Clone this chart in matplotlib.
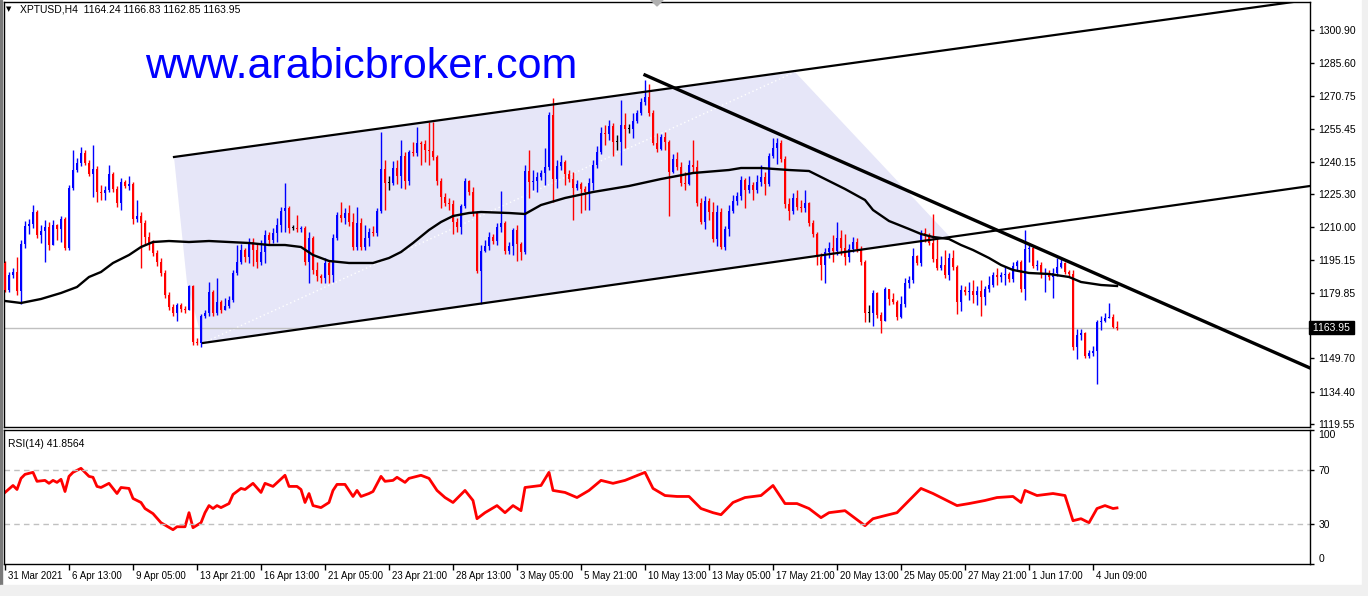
import numpy as np
import matplotlib
matplotlib.use('Agg')
import matplotlib.pyplot as plt
import matplotlib.transforms as mtrans
from matplotlib.patches import Polygon, Rectangle

plt.rcParams['font.family'] = ['Liberation Sans', 'DejaVu Sans']

# XPTUSD H4 candles, 31 Mar 2021 .. 4 Jun 2021
opens = [
    1193.66, 1181.23, 1188.14, 1189.52, 1180.77, 1202.40, 1210.69, 1211.61, 1217.13, 1206.55,
    1208.39, 1210.23, 1201.94, 1211.15, 1209.31, 1213.91, 1200.56, 1228.18, 1236.46, 1239.68,
    1244.29, 1239.68, 1234.62, 1236.92, 1226.34, 1225.88, 1227.26, 1234.62, 1227.72, 1221.27,
    1230.94, 1229.10, 1230.02, 1213.91, 1215.29, 1212.07, 1205.63, 1202.86, 1198.26, 1194.12,
    1189.06, 1178.93, 1173.41, 1170.65, 1174.33, 1172.49, 1172.03, 1183.07, 1157.30, 1156.84,
    1169.27, 1170.65, 1180.31, 1170.65, 1175.71, 1172.03, 1173.87, 1176.63, 1189.06, 1194.12,
    1199.64, 1196.42, 1203.32, 1199.64, 1194.12, 1198.72, 1206.55, 1204.24, 1207.47, 1211.15,
    1217.59, 1218.97, 1209.77, 1209.77, 1209.31, 1209.77, 1194.12, 1205.17, 1190.44, 1187.68,
    1186.76, 1193.66, 1188.14, 1205.17, 1215.75, 1214.37, 1216.67, 1212.53, 1201.02, 1212.07,
    1201.02, 1205.17, 1207.93, 1207.47, 1217.59, 1236.92, 1230.48, 1230.48, 1237.38, 1233.70,
    1242.91, 1231.40, 1244.75, 1244.29, 1248.89, 1248.43, 1245.67, 1245.21, 1242.45, 1231.40,
    1224.04, 1221.27, 1220.81, 1212.53, 1210.23, 1219.89, 1231.40, 1226.34, 1216.67, 1189.98,
    1199.18, 1201.48, 1205.63, 1203.78, 1210.23, 1212.07, 1199.18, 1201.48, 1208.85, 1202.40,
    1198.72, 1236.00, 1230.94, 1231.40, 1233.24, 1235.08, 1237.84, 1261.78, 1232.32, 1238.30,
    1240.14, 1234.62, 1232.32, 1228.18, 1230.02, 1227.72, 1226.34, 1230.48, 1238.76, 1244.75,
    1253.49, 1253.03, 1256.71, 1249.35, 1249.35, 1257.17, 1255.33, 1255.33, 1259.01, 1262.70,
    1267.76, 1270.06, 1262.70, 1248.89, 1246.13, 1251.65, 1249.35, 1235.54, 1241.53, 1237.84,
    1230.48, 1230.02, 1238.76, 1237.84, 1221.27, 1212.53, 1222.19, 1217.13, 1204.70, 1217.13,
    1201.02, 1209.31, 1217.59, 1222.19, 1224.50, 1231.86, 1227.26, 1229.56, 1227.26, 1230.94,
    1233.24, 1230.02, 1242.91, 1246.59, 1248.89, 1241.53, 1220.81, 1217.59, 1223.58, 1219.43,
    1218.97, 1221.27, 1212.07, 1207.01, 1196.42, 1192.74, 1198.72, 1200.56, 1199.18, 1205.17,
    1200.56, 1196.42, 1200.10, 1203.32, 1200.10, 1194.12, 1170.65, 1170.65, 1179.85, 1169.73,
    1166.96, 1181.69, 1177.09, 1175.71, 1168.81, 1174.79, 1184.45, 1185.83, 1196.88, 1193.66,
    1207.47, 1206.09, 1202.86, 1195.50, 1191.36, 1192.74, 1188.14, 1195.96, 1191.82, 1175.71,
    1181.23, 1180.31, 1180.77, 1178.93, 1180.77, 1178.01, 1181.69, 1183.53, 1188.14, 1187.22,
    1188.14, 1188.60, 1186.29, 1192.28, 1194.12, 1181.69, 1200.10, 1200.56, 1192.28, 1192.74,
    1188.60, 1189.06, 1187.22, 1189.06, 1191.82, 1193.66, 1189.52, 1188.60, 1155.00, 1160.52,
    1161.44, 1150.85, 1152.23, 1153.15, 1166.50, 1166.96, 1168.35, 1168.81, 1164.24]

highs = [
    1194.58, 1189.52, 1191.36, 1196.42, 1204.24, 1212.99, 1213.91, 1220.35, 1218.05, 1211.15,
    1213.45, 1212.53, 1213.45, 1211.61, 1215.29, 1214.83, 1229.56, 1245.67, 1241.99, 1247.05,
    1245.67, 1241.07, 1247.97, 1238.30, 1229.56, 1229.10, 1238.76, 1235.54, 1229.10, 1232.78,
    1231.86, 1233.70, 1230.94, 1222.65, 1217.13, 1213.45, 1207.93, 1204.24, 1199.64, 1195.96,
    1190.44, 1180.31, 1174.79, 1175.25, 1175.25, 1173.87, 1183.53, 1183.53, 1159.14, 1170.19,
    1172.03, 1184.91, 1181.23, 1186.76, 1176.63, 1177.55, 1178.47, 1190.44, 1201.94, 1202.40,
    1200.56, 1205.17, 1205.17, 1202.86, 1204.24, 1208.85, 1207.93, 1209.77, 1214.37, 1219.43,
    1230.48, 1219.89, 1211.15, 1215.75, 1210.69, 1210.69, 1207.93, 1206.09, 1194.12, 1188.60,
    1195.96, 1195.04, 1207.01, 1217.13, 1221.73, 1218.97, 1220.35, 1216.67, 1219.43, 1214.37,
    1211.15, 1209.77, 1210.69, 1218.97, 1253.95, 1241.07, 1233.70, 1240.61, 1241.07, 1250.27,
    1244.75, 1245.67, 1249.35, 1256.25, 1249.81, 1250.27, 1258.55, 1258.55, 1243.37, 1232.78,
    1225.88, 1223.58, 1222.65, 1214.37, 1220.81, 1232.78, 1231.86, 1228.64, 1217.59, 1201.94,
    1204.24, 1207.93, 1207.01, 1212.07, 1226.80, 1212.99, 1203.32, 1209.77, 1211.15, 1203.32,
    1238.76, 1245.67, 1236.46, 1235.54, 1236.46, 1246.59, 1263.16, 1269.60, 1241.07, 1243.37,
    1241.07, 1236.46, 1235.54, 1231.86, 1230.94, 1229.10, 1232.78, 1241.07, 1247.51, 1256.25,
    1257.17, 1259.48, 1258.09, 1252.57, 1268.68, 1262.70, 1257.63, 1262.70, 1264.08, 1269.60,
    1277.89, 1276.05, 1264.08, 1253.49, 1253.03, 1253.95, 1250.27, 1243.83, 1244.75, 1240.14,
    1235.54, 1241.07, 1250.27, 1241.07, 1223.58, 1224.50, 1223.58, 1221.73, 1220.35, 1218.97,
    1210.69, 1220.35, 1224.96, 1226.34, 1233.70, 1232.78, 1233.70, 1230.94, 1234.16, 1238.76,
    1235.54, 1244.29, 1251.19, 1251.19, 1250.27, 1242.91, 1223.58, 1225.88, 1227.26, 1222.65,
    1227.26, 1221.73, 1213.45, 1207.93, 1198.26, 1200.56, 1203.32, 1206.55, 1212.53, 1208.85,
    1207.01, 1202.40, 1205.63, 1205.17, 1201.48, 1195.04, 1174.33, 1181.23, 1180.31, 1171.11,
    1182.61, 1181.69, 1179.85, 1176.63, 1178.47, 1186.76, 1187.68, 1200.56, 1197.34, 1208.85,
    1209.77, 1207.47, 1216.21, 1205.17, 1196.88, 1199.64, 1198.26, 1199.64, 1192.74, 1183.53,
    1183.07, 1184.91, 1185.83, 1183.07, 1185.83, 1183.07, 1187.68, 1189.52, 1191.36, 1189.52,
    1192.28, 1189.52, 1194.12, 1195.04, 1195.04, 1208.85, 1201.94, 1201.48, 1195.04, 1194.12,
    1191.36, 1190.44, 1191.36, 1195.96, 1195.96, 1194.12, 1190.44, 1190.44, 1163.28, 1163.28,
    1161.90, 1153.61, 1155.46, 1167.42, 1169.27, 1170.65, 1175.25, 1170.19, 1166.83]

lows = [
    1180.31, 1180.31, 1186.76, 1178.93, 1174.79, 1200.56, 1207.01, 1209.77, 1205.17, 1202.86,
    1194.12, 1199.64, 1201.94, 1204.24, 1203.32, 1199.64, 1199.64, 1227.26, 1235.54, 1238.30,
    1238.76, 1233.70, 1224.04, 1221.73, 1222.65, 1222.65, 1226.34, 1226.34, 1219.43, 1218.05,
    1228.18, 1227.26, 1211.61, 1212.53, 1191.36, 1201.94, 1199.64, 1196.88, 1192.28, 1187.68,
    1177.55, 1172.03, 1169.27, 1166.96, 1171.11, 1170.65, 1172.03, 1155.92, 1155.92, 1155.00,
    1168.35, 1169.27, 1169.27, 1169.73, 1170.65, 1172.03, 1172.95, 1175.71, 1188.14, 1193.20,
    1194.12, 1193.66, 1192.28, 1191.36, 1192.74, 1193.66, 1202.40, 1202.86, 1203.32, 1207.93,
    1207.93, 1207.47, 1208.85, 1207.93, 1207.93, 1192.74, 1184.45, 1188.60, 1185.37, 1184.45,
    1184.45, 1184.45, 1184.91, 1204.24, 1212.53, 1211.61, 1210.69, 1199.64, 1199.64, 1199.64,
    1199.64, 1201.48, 1206.09, 1206.09, 1216.67, 1218.05, 1227.26, 1229.56, 1230.02, 1228.18,
    1227.72, 1229.56, 1242.91, 1242.91, 1238.76, 1240.14, 1238.76, 1241.07, 1229.56, 1218.97,
    1219.89, 1218.05, 1207.01, 1207.93, 1207.01, 1218.97, 1224.96, 1215.29, 1189.06, 1174.79,
    1198.72, 1199.64, 1202.40, 1201.94, 1207.93, 1197.80, 1197.80, 1197.34, 1194.58, 1195.04,
    1197.80, 1223.58, 1227.26, 1226.34, 1231.86, 1229.56, 1236.46, 1221.73, 1228.18, 1236.46,
    1229.56, 1230.94, 1213.45, 1227.26, 1216.67, 1218.05, 1218.05, 1227.26, 1237.38, 1243.83,
    1247.97, 1250.27, 1242.91, 1245.67, 1238.76, 1246.59, 1253.49, 1251.19, 1258.09, 1261.78,
    1266.38, 1261.32, 1247.97, 1244.75, 1245.67, 1245.67, 1215.29, 1235.08, 1236.46, 1229.10,
    1227.26, 1229.56, 1235.54, 1219.89, 1211.61, 1209.31, 1213.45, 1203.32, 1201.48, 1200.10,
    1199.64, 1206.09, 1216.67, 1220.35, 1222.65, 1218.97, 1225.88, 1222.65, 1225.88, 1229.10,
    1224.96, 1229.10, 1241.99, 1239.22, 1240.14, 1218.97, 1213.45, 1216.21, 1218.05, 1217.13,
    1217.13, 1210.69, 1205.63, 1192.74, 1185.83, 1184.45, 1195.96, 1194.12, 1197.34, 1197.34,
    1192.74, 1194.12, 1198.72, 1198.72, 1192.74, 1166.50, 1166.50, 1164.66, 1168.35, 1161.44,
    1166.96, 1174.33, 1174.79, 1167.42, 1168.35, 1173.41, 1182.15, 1184.45, 1192.74, 1192.28,
    1203.32, 1201.94, 1194.12, 1190.44, 1190.44, 1186.76, 1185.83, 1190.44, 1170.19, 1171.57,
    1178.93, 1176.63, 1175.25, 1174.33, 1169.27, 1174.33, 1180.31, 1182.61, 1183.53, 1184.91,
    1183.53, 1184.91, 1184.91, 1190.44, 1180.31, 1176.63, 1194.12, 1191.36, 1190.44, 1186.76,
    1180.31, 1185.83, 1177.55, 1187.68, 1191.36, 1188.60, 1187.68, 1153.61, 1149.47, 1158.22,
    1149.93, 1149.93, 1150.85, 1137.97, 1162.82, 1166.50, 1168.35, 1163.74, 1162.85]

closes = [
    1181.23, 1188.14, 1189.52, 1180.77, 1202.40, 1210.69, 1211.61, 1217.13, 1206.55, 1208.39,
    1210.23, 1201.94, 1211.15, 1209.31, 1213.91, 1200.56, 1228.18, 1236.46, 1239.68, 1244.29,
    1239.68, 1234.62, 1236.92, 1226.34, 1225.88, 1227.26, 1234.62, 1227.72, 1221.27, 1230.94,
    1229.10, 1230.02, 1213.91, 1215.29, 1212.07, 1205.63, 1202.86, 1198.26, 1194.12, 1189.06,
    1178.93, 1173.41, 1170.65, 1174.33, 1172.49, 1172.03, 1183.07, 1157.30, 1156.84, 1169.27,
    1170.65, 1180.31, 1170.65, 1175.71, 1172.03, 1173.87, 1176.63, 1189.06, 1194.12, 1199.64,
    1196.42, 1203.32, 1199.64, 1194.12, 1198.72, 1206.55, 1204.24, 1207.47, 1211.15, 1217.59,
    1218.97, 1209.77, 1209.77, 1209.31, 1209.77, 1194.12, 1205.17, 1190.44, 1187.68, 1186.76,
    1193.66, 1188.14, 1205.17, 1215.75, 1214.37, 1216.67, 1212.53, 1201.02, 1212.07, 1201.02,
    1205.17, 1207.93, 1207.47, 1217.59, 1236.92, 1230.48, 1230.48, 1237.38, 1233.70, 1242.91,
    1231.40, 1244.75, 1244.29, 1248.89, 1248.43, 1245.67, 1245.21, 1242.45, 1231.40, 1224.04,
    1221.27, 1220.81, 1212.53, 1210.23, 1219.89, 1231.40, 1226.34, 1216.67, 1189.98, 1199.18,
    1201.48, 1205.63, 1203.78, 1210.23, 1212.07, 1199.18, 1201.48, 1208.85, 1202.40, 1198.72,
    1236.00, 1230.94, 1231.40, 1233.24, 1235.08, 1237.84, 1261.78, 1232.32, 1238.30, 1240.14,
    1234.62, 1232.32, 1228.18, 1230.02, 1227.72, 1226.34, 1230.48, 1238.76, 1244.75, 1253.49,
    1253.03, 1256.71, 1249.35, 1249.35, 1257.17, 1255.33, 1255.33, 1259.01, 1262.70, 1267.76,
    1270.06, 1262.70, 1248.89, 1246.13, 1251.65, 1249.35, 1235.54, 1241.53, 1237.84, 1230.48,
    1230.02, 1238.76, 1237.84, 1221.27, 1212.53, 1222.19, 1217.13, 1204.70, 1217.13, 1201.02,
    1209.31, 1217.59, 1222.19, 1224.50, 1231.86, 1227.26, 1229.56, 1227.26, 1230.94, 1233.24,
    1230.02, 1242.91, 1246.59, 1248.89, 1241.53, 1220.81, 1217.59, 1223.58, 1219.43, 1218.97,
    1221.27, 1212.07, 1207.01, 1196.42, 1192.74, 1198.72, 1200.56, 1199.18, 1205.17, 1200.56,
    1196.42, 1200.10, 1203.32, 1200.10, 1194.12, 1170.65, 1170.65, 1179.85, 1169.73, 1166.96,
    1181.69, 1177.09, 1175.71, 1168.81, 1174.79, 1184.45, 1185.83, 1196.88, 1193.66, 1207.47,
    1206.09, 1202.86, 1195.50, 1191.36, 1192.74, 1188.14, 1195.96, 1191.82, 1175.71, 1181.23,
    1180.31, 1180.77, 1178.93, 1180.77, 1178.01, 1181.69, 1183.53, 1188.14, 1187.22, 1188.14,
    1188.60, 1186.29, 1192.28, 1194.12, 1181.69, 1200.10, 1200.56, 1192.28, 1192.74, 1188.60,
    1189.06, 1187.22, 1189.06, 1191.82, 1193.66, 1189.52, 1188.60, 1155.00, 1160.52, 1161.44,
    1150.85, 1152.23, 1153.15, 1166.50, 1166.96, 1168.35, 1168.81, 1164.24, 1163.95]

# moving average (black line), sampled along the bars
ma_bars = [0, 4, 9, 14, 18, 21, 24, 27, 31, 34, 37, 41, 46, 51, 56, 61, 66, 70, 74, 77,
           81, 86, 92, 96, 99, 102, 106, 109, 112, 116, 119, 126, 130, 134, 140, 147, 156, 164, 172, 181,
           184, 189, 196, 201, 204, 210, 215, 217, 221, 226, 229, 232, 236, 239, 242, 246, 249, 252, 256, 261,
           266, 269, 274, 278]
ma_vals = [1176.17, 1175.25, 1177.09, 1179.85, 1182.61, 1187.22, 1189.52, 1193.66, 1197.34, 1201.02,
           1203.32, 1203.78, 1203.32, 1203.78, 1203.32, 1202.86, 1201.94, 1201.94, 1201.02, 1197.34,
           1194.58, 1193.66, 1193.66, 1195.96, 1198.72, 1202.86, 1208.85, 1212.53, 1215.29, 1216.67,
           1217.13, 1216.67, 1216.21, 1220.35, 1223.58, 1226.34, 1229.10, 1232.32, 1235.08, 1236.46,
           1237.38, 1237.38, 1236.46, 1236.00, 1233.24, 1227.72, 1222.65, 1218.05, 1212.99, 1209.31,
           1207.01, 1205.63, 1204.70, 1201.94, 1199.64, 1195.96, 1192.74, 1190.44, 1189.06, 1188.60,
           1187.22, 1184.91, 1183.53, 1183.07]

# RSI(14)
rsi_bars = [0, 2, 3, 4, 5, 7, 8, 10, 11, 12, 13, 14, 15, 16, 17, 19, 21, 22, 23, 24,
            26, 28, 29, 31, 32, 34, 35, 37, 39, 42, 43, 45, 46, 47, 49, 50, 51, 52, 53, 54,
            56, 57, 59, 60, 62, 64, 65, 67, 70, 71, 73, 74, 75, 76, 77, 79, 81, 82, 83, 85,
            87, 88, 89, 91, 92, 94, 95, 97, 98,
            100, 101, 104, 106, 108, 110, 112, 115, 117, 118, 120, 123, 125, 127, 129, 130, 134, 136, 137, 140,
            143, 146, 149, 152, 155, 160, 162, 165, 168, 171, 174, 177, 179, 182, 185, 189, 192, 195, 198, 201,
            204, 206, 210, 215, 217, 220, 223, 227, 229, 232, 238, 241, 245, 248, 252, 254, 255, 258, 262, 265,
            267, 269, 271, 273, 275, 277, 278]
rsi_vals = [53.4, 58.6, 55.6, 63.9, 66.9, 68.4, 61.7, 62.4, 60.2, 62.4, 60.9, 63.2, 54.1, 65.4, 68.4, 71.4, 65.4, 64.7, 57.9, 57.1,
            60.2, 52.6, 57.1, 56.4, 48.9, 45.9, 41.4, 37.6, 30.8, 25.6, 27.8, 27.8, 38.3, 27.1, 30.8, 38.3, 43.6, 41.4, 43.6, 42.1,
            45.1, 51.9, 56.4, 55.6, 60.2, 53.4, 60.2, 57.9, 66.2, 57.9, 57.9, 55.6, 45.9, 52.6, 43.6, 42.1, 45.9, 54.9, 59.4, 59.4,
            50.4, 54.9, 50.4, 52.6, 54.1, 65.4, 61.7, 62.4, 64.7,
            60.9, 63.9, 66.2, 63.9, 54.9, 49.6, 45.9, 54.9, 47.4, 33.8, 38.3, 43.6, 38.3, 43.6, 39.8, 57.1, 58.6, 68.4, 54.9, 53.4,
            49.6, 54.9, 62.4, 60.2, 62.4, 68.4, 56.4, 51.1, 50.4, 50.4, 41.4, 38.3, 36.8, 45.9, 49.6, 51.1, 58.6, 45.1, 45.1, 41.4,
            34.6, 38.3, 39.8, 28.6, 33.8, 36.1, 38.3, 50.4, 56.4, 52.6, 43.6, 45.1, 47.4, 49.6, 50.4, 45.9, 54.9, 51.1, 52.6, 51.1,
            32.3, 33.8, 30.8, 41.4, 43.6, 41.4, 41.8564]

price_ticks = [1119.55, 1134.40, 1149.70, 1179.85, 1195.15, 1210.00, 1225.30,
               1240.15, 1255.45, 1270.75, 1285.60, 1300.90]
rsi_ticks = [0, 30, 70, 100]
time_ticks = list(range(0, 273, 16))
time_labels = ['31 Mar 2021', '6 Apr 13:00', '9 Apr 05:00', '13 Apr 21:00', '16 Apr 13:00',
               '21 Apr 05:00', '23 Apr 21:00', '28 Apr 13:00', '3 May 05:00', '5 May 21:00',
               '10 May 13:00', '13 May 05:00', '17 May 21:00', '20 May 13:00', '25 May 05:00',
               '27 May 21:00', '1 Jun 17:00', '4 Jun 09:00']
last_price = 1163.95

# drawn objects: (bar, price) anchors
channel_fill = [(42.25, 1242.45), (197.5, 1281.57), (236.25, 1205.63), (49.5, 1156.84), (45.5, 1184.45)]
channel_upper = [(42.25, 1242.45), (322.0, 1313.79)]
channel_lower = [(49.5, 1156.84), (326.25, 1229.10)]
channel_diag = [(49.5, 1156.84), (197.5, 1281.57)]
trend_line = [(160.0, 1280.19), (326.25, 1145.33)]

W, H = 1368, 596
fig = plt.figure(figsize=(W / 100, H / 100), dpi=100)
fig.patches.append(Rectangle((0, 0), 2 / W, 1, transform=fig.transFigure, color='#7a7a7a'))
fig.patches.append(Rectangle((0, 0), 1, 11 / H, transform=fig.transFigure, color='#f0f0f0'))
fig.patches.append(Rectangle((1362 / W, 0), 6 / W, 1, transform=fig.transFigure, color='#f0f0f0'))

ax = fig.add_axes([4 / W, 169 / H, 1306 / W, 425 / H])
rx = fig.add_axes([4 / W, 32 / H, 1306 / W, 134 / H])

o = np.array(opens)
h = np.array(highs)
l = np.array(lows)
c = np.array(closes)
x = np.arange(len(c))
cols = np.where(c > o, '#0000ff', np.where(c < o, '#ff0000', '#000000'))

ax.add_patch(Polygon(channel_fill, closed=True, fc='#e6e6f8', ec='none', zorder=0))
ax.plot(*zip(*channel_diag), color='white', lw=1, ls=(0, (1, 2)), zorder=0.5)
ax.axhline(last_price, color='#c0c0c0', lw=1, zorder=0.6)

ax.vlines(x, l, h, colors=cols, lw=1, zorder=2)
ax.bar(x, np.maximum(np.abs(c - o), 0.3), bottom=np.minimum(o, c), width=0.72,
       color=cols, linewidth=0, zorder=3)

ax.plot(ma_bars, ma_vals, color='black', lw=1.7, zorder=4)
ax.plot(*zip(*channel_upper), color='black', lw=1.6, zorder=4)
ax.plot(*zip(*channel_lower), color='black', lw=1.6, zorder=4)
ax.plot(*zip(*trend_line), color='black', lw=2.4, zorder=4)

ax.set_xlim(-0.25, 326.25)
ax.set_ylim(1118.17, 1313.79)
ax.set_xticks([])
ax.yaxis.tick_right()
ax.set_yticks(price_ticks)
ax.set_yticklabels(['%.2f' % v for v in price_ticks])
ax.tick_params(axis='y', length=3, width=1, pad=3, labelsize=7.5)
for s in ax.spines.values():
    s.set_linewidth(1)

ax.text(1.0, last_price, ' %.2f ' % last_price, transform=ax.get_yaxis_transform(),
        ha='left', va='center', color='white', fontsize=7.5,
        bbox=dict(boxstyle='square,pad=0.12', fc='black', ec='black'))

ax.text(0.108, 0.821, 'www.arabicbroker.com', transform=ax.transAxes, va='baseline',
        ha='left', fontsize=31, color='#0000ff')

fig.text(6 / W, 1 - 9 / H, '\u25bc', fontsize=5, va='center', ha='left', family='DejaVu Sans')
fig.text(20 / W, 1 - 9 / H, 'XPTUSD,H4  1164.24 1166.83 1162.85 1163.95',
         fontsize=7.5, va='center', ha='left')
fig.patches.append(Polygon([(651 / W, 1.0), (663 / W, 1.0), (657 / W, 1 - 6 / H)],
                           closed=True, transform=fig.transFigure, color='#b0b0b0'))

# RSI panel
rx.plot(rsi_bars, rsi_vals, color='#ff0000', lw=2)
rx.axhline(70, color='#c0c0c0', lw=1, ls=(0, (4, 3)))
rx.axhline(30, color='#c0c0c0', lw=1, ls=(0, (4, 3)))
rx.set_xlim(-0.25, 326.25)
rx.set_ylim(0, 100)
rx.yaxis.tick_right()
rx.set_yticks(rsi_ticks)
rx.set_yticklabels([str(v) for v in rsi_ticks])
rx.tick_params(axis='y', length=3, width=1, pad=3, labelsize=7.5)
ylabs = rx.get_yticklabels()
ylabs[0].set_va('bottom')
ylabs[-1].set_va('top')
rx.set_xticks(time_ticks)
rx.set_xticklabels(time_labels)
rx.tick_params(axis='x', length=4, width=1, pad=1, labelsize=7)
shift = mtrans.ScaledTranslation(3 / 100, 0, fig.dpi_scale_trans)
for lab in rx.get_xticklabels():
    lab.set_ha('left')
    lab.set_transform(lab.get_transform() + shift)
for s in rx.spines.values():
    s.set_linewidth(1)
rx.text(0.003, 0.93, 'RSI(14) 41.8564', transform=rx.transAxes, va='top', ha='left', fontsize=7.5)

fig.savefig('out.png', dpi=100)
